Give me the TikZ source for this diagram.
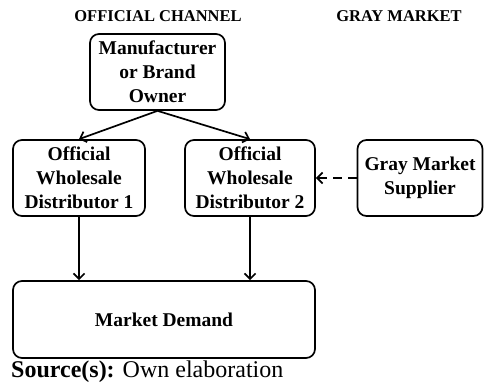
\documentclass[tikz,border=0pt]{standalone}
\usepackage{fontspec}
\setmainfont{Liberation Serif}
\usetikzlibrary{arrows.meta}
\begin{document}
\begin{tikzpicture}[x=1pt,y=-1pt,
    box/.style={draw, line width=1.7pt, rounded corners=9pt, align=center, inner sep=0pt,
      minimum height=76pt, font=\fontsize{19.5}{24}\selectfont\bfseries},
    flow/.style={line width=1.7pt, -{Straight Barb[length=5.5pt,width=11pt,line width=1.7pt]}},
    head/.style={font=\fontsize{16.5}{20}\selectfont\bfseries}]
    \useasboundingbox (0,0) rectangle (484,388);
    \node [head] (hoff) at (158,16) {OFFICIAL CHANNEL};
    \node [head] (hgray) at (399,16) {GRAY MARKET};
    \node [box, minimum width=135pt] (mfr) at (157.5,72) {Manufacturer\\or Brand\\Owner};
    \node [box, minimum width=132pt] (owd1) at (79,178) {Official\\Wholesale\\Distributor 1};
    \node [box, minimum width=130pt] (owd2) at (250,178) {Official\\Wholesale\\Distributor 2};
    \node [box, minimum width=125pt] (gms) at (420,178) {Gray Market\\Supplier};
    \node [box, minimum width=302pt, minimum height=77pt] (demand) at (164,319.5) {Market Demand};
    \draw [flow] (mfr.south) -- (owd1.north);
    \draw [flow] (mfr.south) -- (owd2.north);
    \draw [flow] (owd1.south) -- (owd1.south |- demand.north);
    \draw [flow] (owd2.south) -- (owd2.south |- demand.north);
    \draw [flow, dash pattern=on 9pt off 6pt] (gms.west) -- (owd2.east);
    \node [anchor=west, inner sep=0pt, font=\fontsize{24}{28}\selectfont] (src) at (11,372)
      {\textbf{Source(s):} Own elaboration};
\end{tikzpicture}
\end{document}
